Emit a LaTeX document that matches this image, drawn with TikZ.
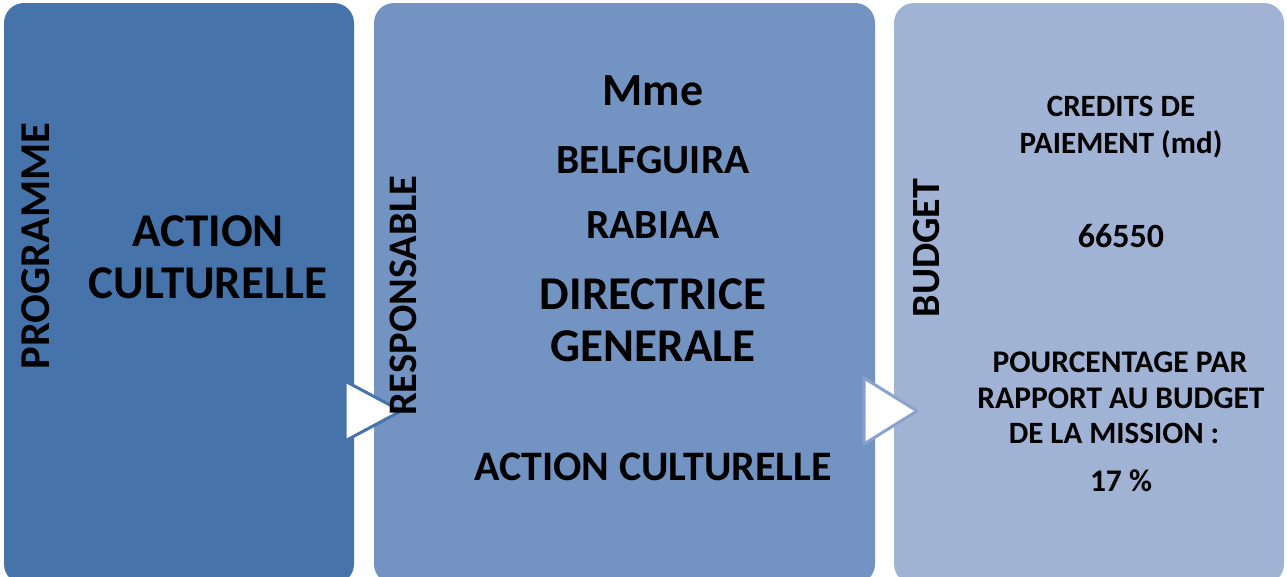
\documentclass[tikz,border=0pt]{standalone}
\usepackage{fontspec}
\setmainfont{Carlito}
\definecolor{boxA}{HTML}{4674AA}
\definecolor{boxB}{HTML}{7393C2}
\definecolor{boxC}{HTML}{A1B3D4}
\definecolor{triB}{HTML}{8AA2CD}
\tikzset{
  panel/.style={rounded corners=20pt, line width=0pt},
  txt/.style={inner sep=0pt, anchor=base, font=\bfseries},
  vtxt/.style={inner sep=0pt, anchor=base, rotate=90, font=\bfseries},
  tri/.style={fill=white, line width=3pt, line join=round}
}
\begin{document}
\begin{tikzpicture}[x=1pt,y=-1pt]
\useasboundingbox (0,0) rectangle (1287,576);
\begin{scope}
\clip (0,0) rectangle (1287,576);
\fill[boxA,panel] (4,3) rectangle (354,584);
\fill[boxB,panel] (374,3) rectangle (875,584);
\fill[boxC,panel] (894,3) rectangle (1284,584);
\end{scope}
% panel 1
\node[vtxt, font=\bfseries\fontsize{42.5}{42.5}\selectfont] (prog) at (49,246) {PROGRAMME};
\node[txt, font=\bfseries\fontsize{47}{47}\selectfont] (act1) at (208,246) {ACTION};
\node[txt, font=\bfseries\fontsize{47}{47}\selectfont] (cul1) at (208,298) {CULTURELLE};
% arrows
\draw[tri, draw=boxA] (345,381) -- (401,411) -- (345,441) -- cycle;
\draw[tri, draw=triB] (864,378) -- (917,411) -- (864,444) -- cycle;
% panel 2
\node[vtxt, font=\bfseries\fontsize{40.5}{40.5}\selectfont] (resp) at (416,296) {RESPONSABLE};
\node[txt, font=\bfseries\fontsize{46}{46}\selectfont] (mme) at (653,105) {Mme};
\node[txt, font=\bfseries\fontsize{41.5}{41.5}\selectfont] (bel) at (653,173) {BELFGUIRA};
\node[txt, font=\bfseries\fontsize{41.5}{41.5}\selectfont] (rab) at (653,238) {RABIAA};
\node[txt, font=\bfseries\fontsize{47}{47}\selectfont] (dir) at (653,309) {DIRECTRICE};
\node[txt, font=\bfseries\fontsize{47}{47}\selectfont] (gen) at (653,361) {GENERALE};
\node[txt, font=\bfseries\fontsize{42}{42}\selectfont] (act2) at (653,480) {ACTION CULTURELLE};
% panel 3
\node[vtxt, font=\bfseries\fontsize{40}{40}\selectfont] (bud) at (939,248) {BUDGET};
\node[txt, font=\bfseries\fontsize{31}{31}\selectfont] (cr) at (1121,116) {CREDITS DE};
\node[txt, font=\bfseries\fontsize{31}{31}\selectfont] (pai) at (1121,153) {PAIEMENT (md)};
\node[txt, font=\bfseries\fontsize{34}{34}\selectfont] (num) at (1121,247) {66550};
\node[txt, font=\bfseries\fontsize{31.5}{31.5}\selectfont] (pc1) at (1120,372) {POURCENTAGE PAR};
\node[txt, font=\bfseries\fontsize{31.5}{31.5}\selectfont] (pc2) at (1121,408) {RAPPORT AU BUDGET};
\node[txt, font=\bfseries\fontsize{31}{31}\selectfont] (pc3) at (1114,443) {DE LA MISSION :};
\node[txt, font=\bfseries\fontsize{31.5}{31.5}\selectfont] (pct) at (1121,491) {17 \%};
\end{tikzpicture}
\end{document}
